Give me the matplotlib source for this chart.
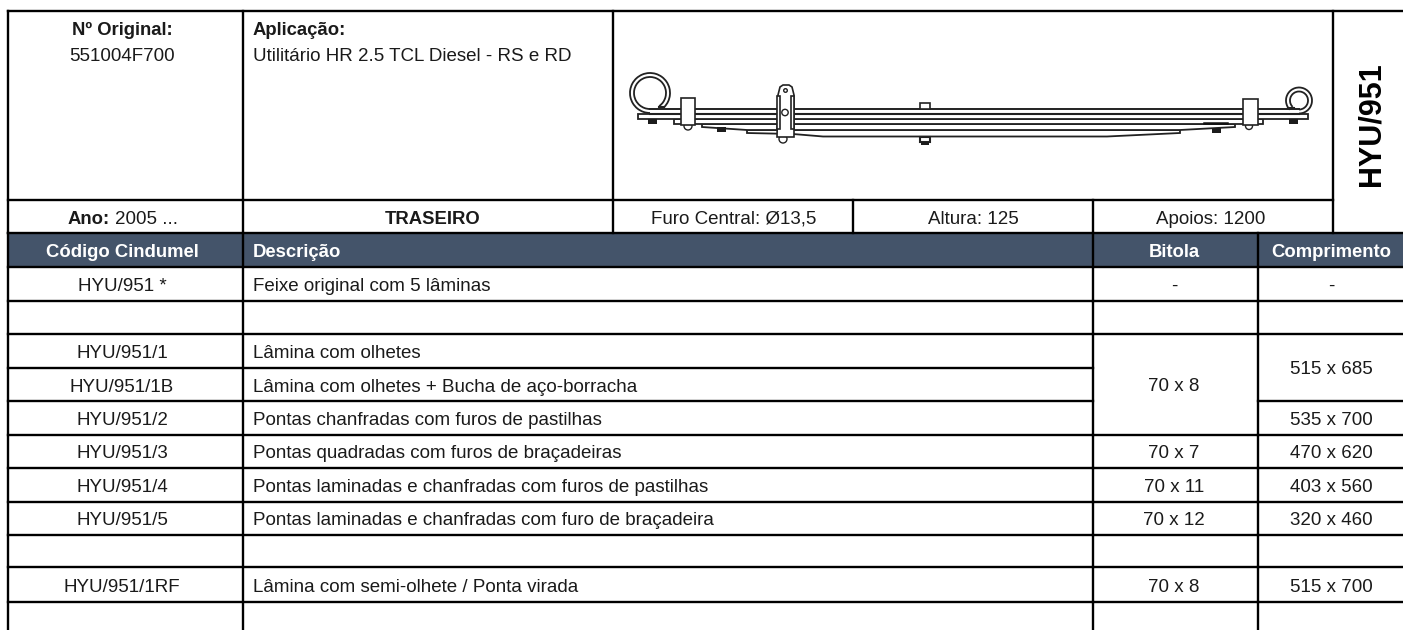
import matplotlib
matplotlib.use("Agg")
import matplotlib.pyplot as plt
from matplotlib.patches import Arc, Circle, Polygon, Rectangle

plt.rcParams['font.family'] = ['Liberation Sans', 'DejaVu Sans']

W, H = 1403, 630
DARK = '#222222'
HEADER = '#44546a'
FS = 13.5
FS_BOLD = 13.35

# table content
header_labels = ["Código Cindumel", "Descrição", "Bitola", "Comprimento"]
codes = ["HYU/951", "", "HYU/951/1", "HYU/951/1B", "HYU/951/2", "HYU/951/3",
         "HYU/951/4", "HYU/951/5", "", "HYU/951/1RF", ""]
descriptions = ["Feixe original com 5 lâminas", "", "Lâmina com olhetes",
                "Lâmina com olhetes + Bucha de aço-borracha",
                "Pontas chanfradas com furos de pastilhas",
                "Pontas quadradas com furos de braçadeiras",
                "Pontas laminadas e chanfradas com furos de pastilhas",
                "Pontas laminadas e chanfradas com furo de braçadeira", "",
                "Lâmina com semi-olhete / Ponta virada", ""]
# (first row, last row, value) because some cells are merged
bitola = [(0, 0, "-"), (1, 1, ""), (2, 4, "70 x 8"), (5, 5, "70 x 7"), (6, 6, "70 x 11"),
          (7, 7, "70 x 12"), (8, 8, ""), (9, 9, "70 x 8"), (10, 10, "")]
comprimento = [(0, 0, "-"), (1, 1, ""), (2, 3, "515 x 685"), (4, 4, "535 x 700"), (5, 5, "470 x 620"),
               (6, 6, "403 x 560"), (7, 7, "320 x 460"), (8, 8, ""), (9, 9, "515 x 700"), (10, 10, "")]

# grid, in image pixels
col_x = [8, 243, 1093, 1258, 1403]
row_y = [267, 301, 333.5, 368, 401, 435, 467.5, 501.7, 535, 567, 602, 632]

fig = plt.figure(figsize=(W / 100, H / 100), dpi=100)
ax = fig.add_axes([0, 0, 1, 1])
ax.set_xlim(0, W)
ax.set_ylim(H, 0)
ax.axis('off')


def hline(y, x0, x1, lw=1.7):
    ax.plot([x0, x1], [y, y], color='black', lw=lw, solid_capstyle='projecting', zorder=5)


def vline(x, y0, y1, lw=1.7):
    ax.plot([x, x], [y0, y1], color='black', lw=lw, solid_capstyle='projecting', zorder=5)


def txt(x, y, s, ha='center', bold=False, color='#1a1a1a', **kw):
    # y is the text baseline
    ax.text(x, y, s, ha=ha, va='baseline', color=color, fontsize=FS_BOLD if bold else FS,
            fontweight='bold' if bold else 'normal', zorder=6, **kw)


def leaf(pts, lw=1.3):
    ax.add_patch(Polygon(pts, closed=True, fc='white', ec=DARK, lw=lw, zorder=2))


def nut(x, y, w=9, h=5):
    ax.add_patch(Rectangle((x - w / 2, y - h / 2), w, h, fc='#1c1c1c', ec='none', zorder=2))


def clamp(x0, x1, y0, y1, z=3):
    ax.add_patch(Rectangle((x0, y0), x1 - x0, y1 - y0, fc='white', ec=DARK, lw=1.2, zorder=z))


# header block
txt(122, 35, "Nº Original:", bold=True)
txt(122, 61.3, "551004F700")
txt(253, 35, "Aplicação:", ha='left', bold=True)
txt(253, 61.3, "Utilitário HR 2.5 TCL Diesel - RS e RD", ha='left')
txt(68, 224, "Ano:", ha='left', bold=True)
txt(115, 224, "2005 ...", ha='left')
txt(433, 224, "TRASEIRO", bold=True)
txt(734, 224, "Furo Central: Ø13,5")
txt(973, 224, "Altura: 125")
txt(1211, 224, "Apoios: 1200")
ax.text(1371, 124, "HYU/951", ha='center', va='center', rotation=90, color='black',
        fontsize=22, fontweight='bold', zorder=6)

# spring drawing, leaves from bottom to top
leaf([(747, 130), (1180, 130), (1180, 133), (1107, 136.5), (823, 136.5), (793, 134), (747, 133)])
leaf([(702, 124), (1235, 124), (1235, 127), (1180, 130), (747, 130), (702, 127)])
leaf([(674, 119), (1263, 119), (1263, 123.5), (674, 123.5)])
leaf([(638, 114), (1308, 114), (1308, 118.5), (638, 118.5)])
ax.plot([650, 1299], [109, 109], color=DARK, lw=1.4, zorder=2)
ax.plot([650, 1299], [113.5, 113.5], color=DARK, lw=1.5, zorder=2)
ax.plot([1204, 1227], [122.5, 122.5], color='#111111', lw=1.8, zorder=2)

# eyes
ax.add_patch(Arc((650, 93), 40, 40, theta1=90, theta2=45, color=DARK, lw=1.3, zorder=3))
ax.add_patch(Arc((650, 93), 32, 32, theta1=90, theta2=55, color=DARK, lw=1.3, zorder=3))
ax.plot([659, 664], [107, 107], color=DARK, lw=1.5, zorder=3)
ax.add_patch(Arc((1299, 100.5), 26, 26, theta1=135, theta2=90, color=DARK, lw=1.3, zorder=3))
ax.add_patch(Arc((1299, 100.5), 18, 18, theta1=135, theta2=90, color=DARK, lw=1.3, zorder=3))
ax.plot([1288, 1294], [108, 108], color=DARK, lw=1.5, zorder=3)

# small nuts under the leaves
nut(652, 121)
nut(721, 129.5)
nut(1216, 130)
nut(1293, 121)

# end clamps
for x, r in [(688, 4), (1249, 3.5)]:
    ax.add_patch(Circle((x, 126), r, fc='white', ec=DARK, lw=1.0, zorder=2))
clamp(681, 695, 98, 125)
clamp(1243, 1257.5, 99, 125)

# shackle
ax.add_patch(Circle((783, 139), 4, fc='white', ec=DARK, lw=1.0, zorder=2))
ax.add_patch(Polygon([(778, 95), (780, 87), (783, 85), (789, 85), (792, 87), (794, 95),
                      (794, 137), (777, 137)], closed=True, fc='white', ec=DARK, lw=1.2, zorder=3))
clamp(776.5, 780, 96, 129, z=4)
clamp(790.5, 794, 96, 129, z=4)
ax.add_patch(Circle((785, 112.5), 3.2, fc='white', ec=DARK, lw=1.0, zorder=4))
ax.add_patch(Circle((785.5, 90.5), 1.8, fc='white', ec=DARK, lw=1.0, zorder=4))

# centre bolt
ax.add_patch(Rectangle((920, 103), 10, 6, fc='white', ec=DARK, lw=1.2, zorder=2))
ax.add_patch(Rectangle((920, 137), 10, 5, fc='white', ec=DARK, lw=1.5, zorder=2))
nut(925, 143, w=8, h=3)

# dark header band
ax.add_patch(Rectangle((col_x[0], 233), W - col_x[0], 34, fc=HEADER, ec='none', zorder=1))
txt(122, 256.7, header_labels[0], bold=True, color='white')
txt(253, 256.7, header_labels[1], ha='left', bold=True, color='white')
txt(1174, 256.7, header_labels[2], bold=True, color='white')
txt(1331, 256.7, header_labels[3], bold=True, color='white')

# body rows
for i, (code, desc) in enumerate(zip(codes, descriptions)):
    yc = (row_y[i] + row_y[i + 1]) / 2 + 7
    if code:
        txt(122, yc, code + (" *" if i == 0 else ""))
    if desc:
        txt(253, yc, desc, ha='left')
    hline(row_y[i + 1], col_x[0], col_x[2])

for cells, xc, x0, x1 in [(bitola, 1174, 1093, 1258), (comprimento, 1331, 1258, 1403)]:
    for first, last, value in cells:
        yc = (row_y[first] + row_y[last + 1]) / 2 + 7
        if value:
            txt(xc, yc, value)
        hline(row_y[last + 1], x0, x1)

# rules
hline(11, 8, 1403)
hline(200, 8, 1333)
hline(233, 8, 1403)
hline(267, 8, 1403)
for x in col_x[:3] + [1258]:
    vline(x, 233, 630)
vline(8, 11, 233)
vline(243, 11, 233)
vline(613, 11, 233)
vline(853, 200, 233)
vline(1093, 200, 233)
vline(1333, 11, 233)

fig.savefig("out.png", dpi=100)
